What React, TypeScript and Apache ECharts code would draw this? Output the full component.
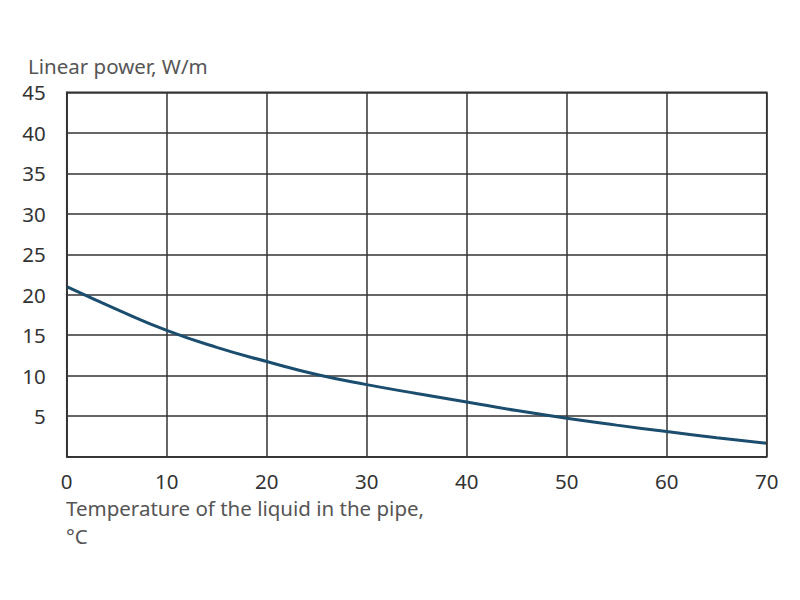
import React, { useEffect, useRef } from "react";
import * as echarts from "echarts";

const temperatures = [0, 5, 10, 15, 20, 25, 30, 35, 40, 45, 50, 55, 60, 65, 70];
const linearPower = [21.0, 18.2, 15.6, 13.5, 11.75, 10.15, 8.9, 7.8, 6.75, 5.7, 4.75, 3.9, 3.1, 2.35, 1.65];
const yAxisTitle = "Linear power, W/m";
const xAxisTitleLines = ["Temperature of the liquid in the pipe,", "°C"];

export default function App() {
  const ref = useRef<HTMLDivElement>(null);
  useEffect(() => {
    if (!ref.current) return;
    const chart = echarts.init(ref.current, undefined, { renderer: "svg" });
    const font = "Noto Sans";
    chart.setOption({
      animation: false,
      backgroundColor: "#ffffff",
      grid: { left: 66.7, right: 33.3, top: 92.3, bottom: 143.3, show: false },
      xAxis: {
        type: "value",
        min: 0,
        max: 70,
        interval: 10,
        axisLine: { show: true, lineStyle: { color: "#333", width: 1.5 } },
        axisTick: { show: false },
        splitLine: { show: true, lineStyle: { color: "#333", width: 1.5 } },
        axisLabel: { color: "#333", fontSize: 20.5, fontFamily: font, margin: 14 },
      },
      yAxis: {
        type: "value",
        min: 0,
        max: 45,
        interval: 5,
        axisLine: { show: true, lineStyle: { color: "#333", width: 1.5 } },
        axisTick: { show: false },
        splitLine: { show: true, lineStyle: { color: "#333", width: 1.5 } },
        axisLabel: {
          color: "#333",
          fontSize: 20.5,
          fontFamily: font,
          margin: 21,
          formatter: (v: number) => (v === 0 ? "" : String(v)),
        },
      },
      graphic: [
        {
          type: "rect",
          shape: { x: 66.7, y: 92.3, width: 700, height: 364.4 },
          style: { fill: "none", stroke: "#333", lineWidth: 1.5 },
          z: 10,
        },
        {
          type: "text",
          left: 28,
          top: 55,
          style: { text: yAxisTitle, fill: "#555", fontSize: 20.5, fontFamily: font },
        },
        ...xAxisTitleLines.map((line, i) => ({
          type: "text",
          left: 66,
          top: 497 + i * 28,
          style: { text: line, fill: "#555", fontSize: 20.5, fontFamily: font },
        })),
      ],
      series: [
        {
          type: "line",
          data: temperatures.map((t, i) => [t, linearPower[i]]),
          smooth: true,
          showSymbol: false,
          lineStyle: { color: "#1b4d6e", width: 3 },
          z: 5,
        },
      ],
    });
    return () => chart.dispose();
  }, []);
  return (
    <div
      ref={ref}
      style={{ position: "fixed", left: 0, top: 0, width: 800, height: 600, background: "#fff" }}
    />
  );
}
